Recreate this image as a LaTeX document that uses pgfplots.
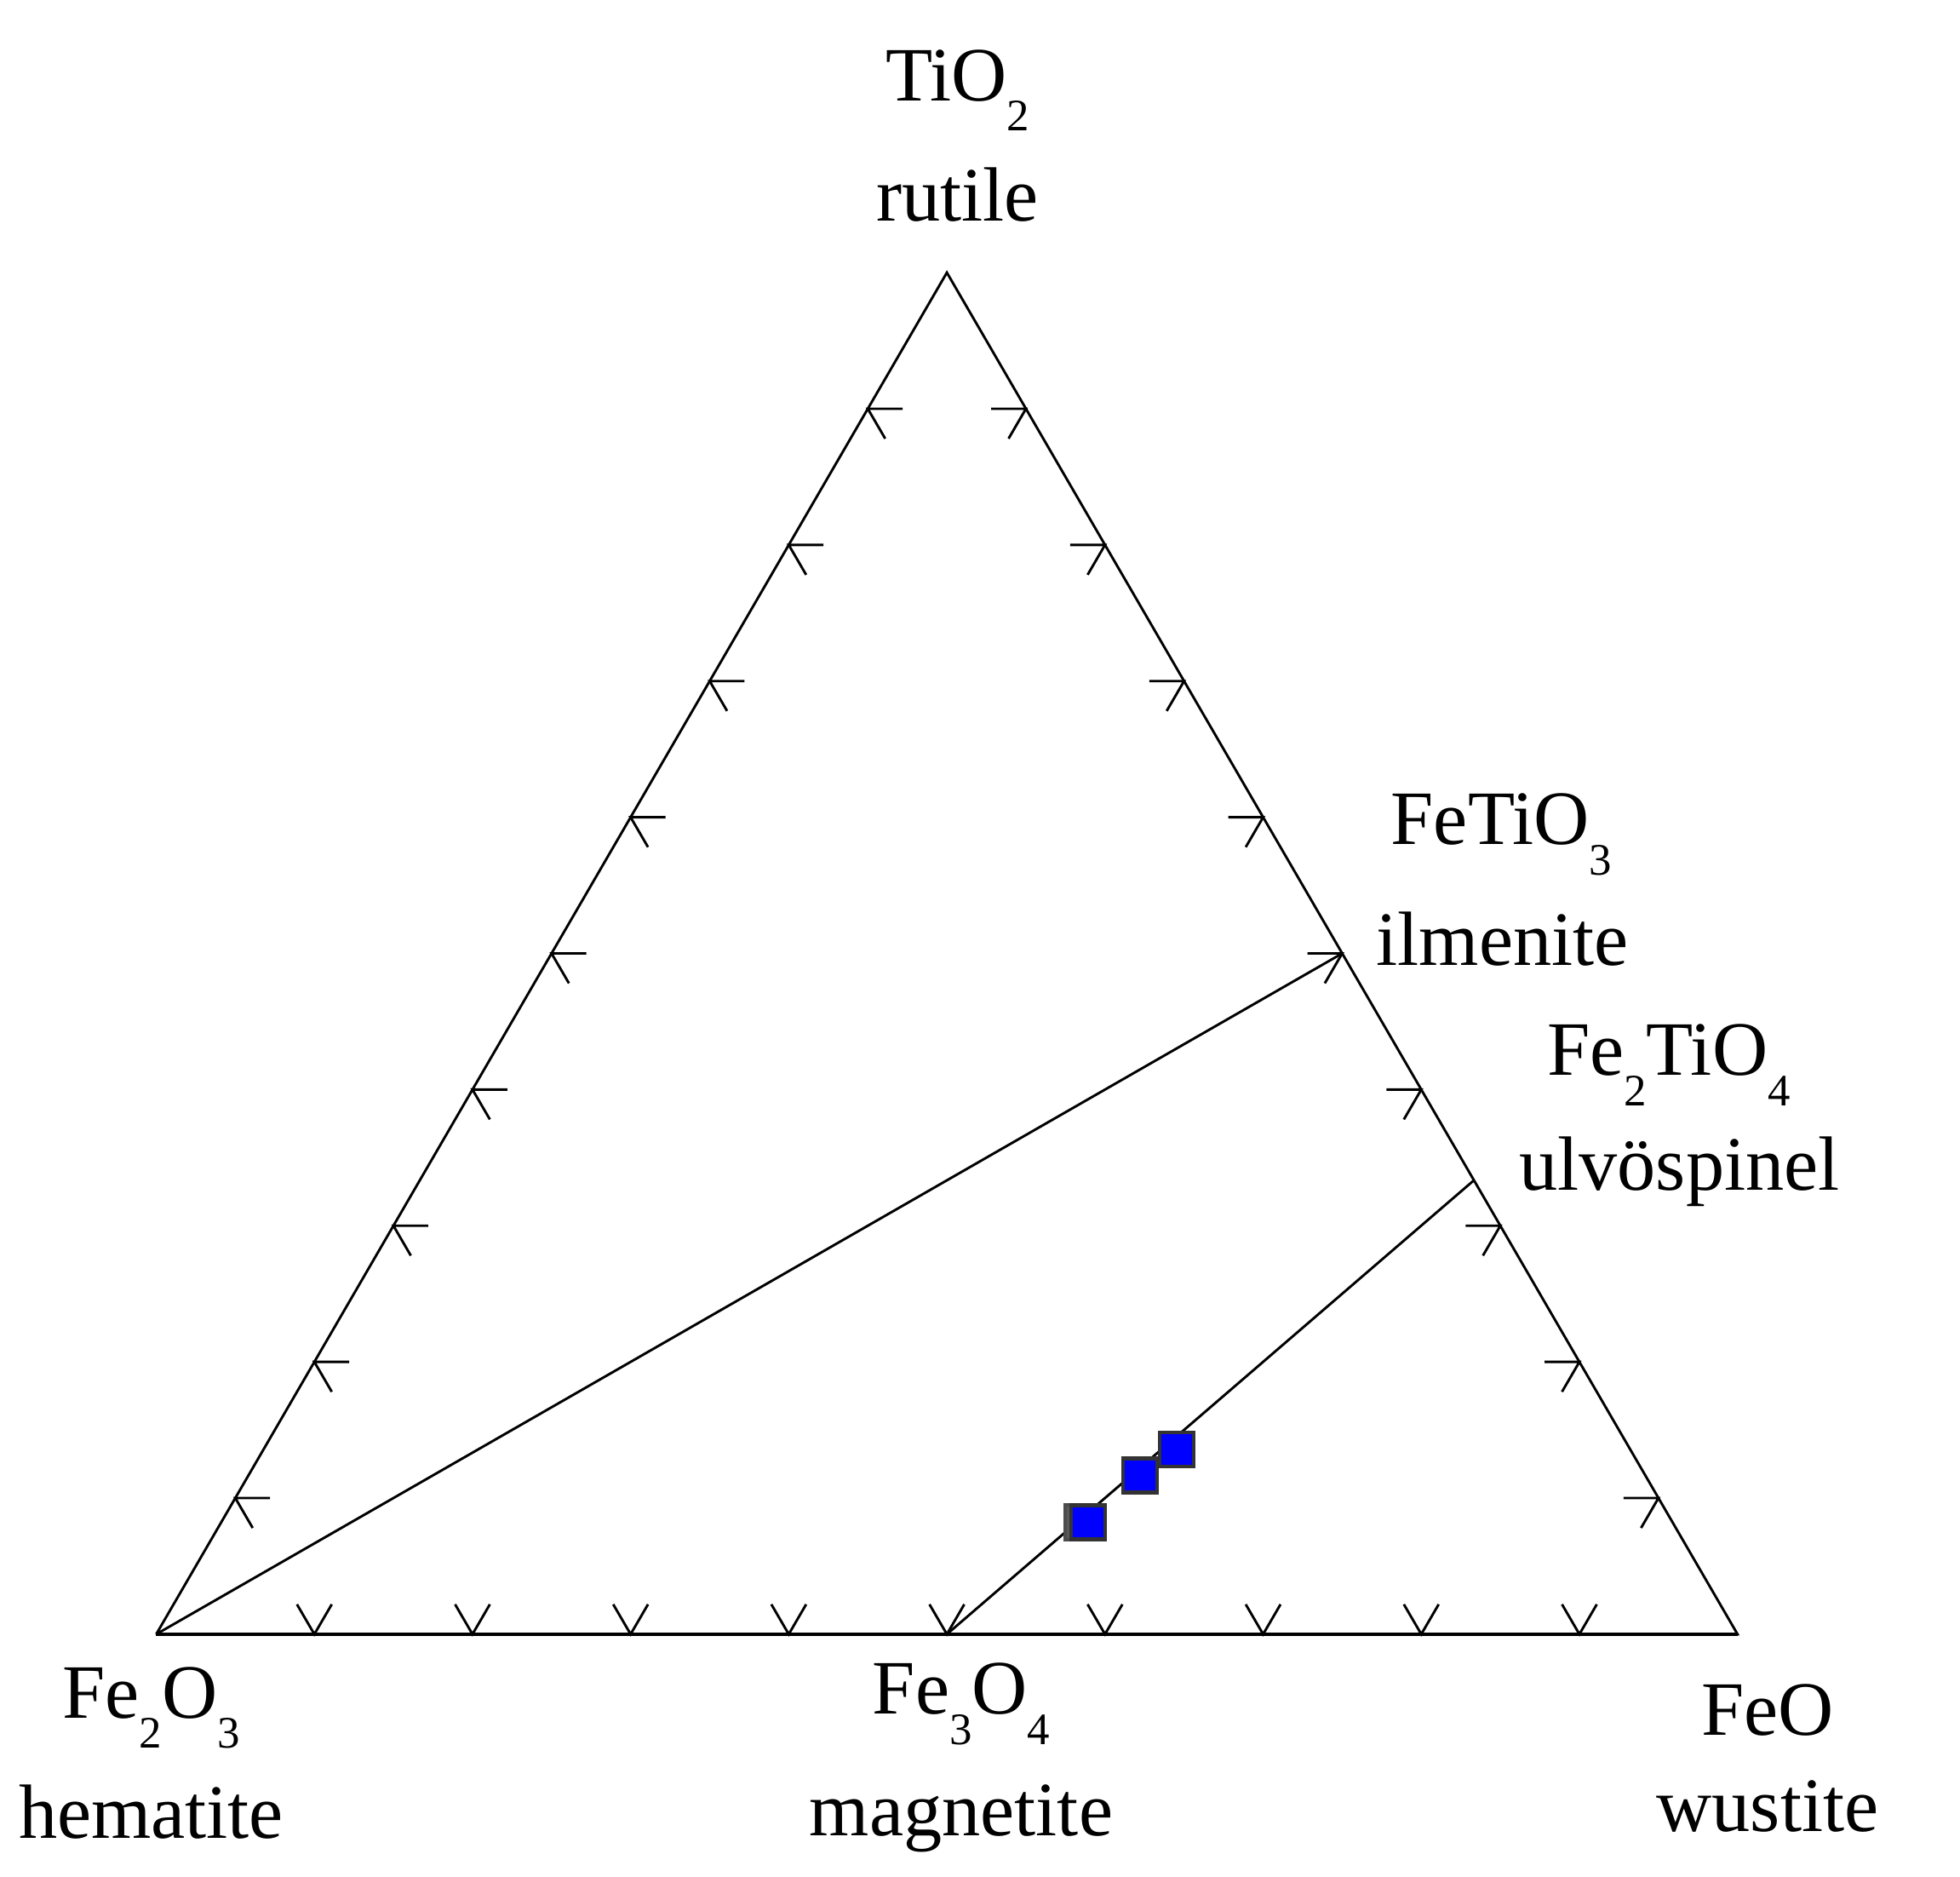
\documentclass[border=0pt]{standalone}
\usepackage{fontspec}
\setmainfont{Liberation Serif}
\usepackage{pgfplots}
\pgfplotsset{compat=1.18}

% subscript digits sit well below the baseline in the original
\newcommand\sub[1]{\raisebox{-5.5pt}{\fontsize{8.2}{9}\selectfont #1}}
\tikzset{lbl/.style={anchor=base, inner sep=0pt, font=\fontsize{14}{16}\selectfont}}

\begin{document}
\begin{tikzpicture}
  \begin{axis}[
      hide axis, scale only axis,
      x=10.12cm, y=10.06cm,
      xmin=-0.0988, xmax=1.1407, ymin=-0.1543, ymax=1.0394,
      clip=false
    ]
    % frame of the ternary diagram
    \addplot[black, line width=0.45pt] coordinates {(0,0) (1,0) (0.5,0.8660) (0,0)};
    \addplot[black, line width=0.6pt] coordinates {(0,0) (1,0)};

    % tie lines
    \addplot[black, line width=0.45pt] coordinates {(0,0) (0.75,0.4330)};
    \addplot[black, line width=0.45pt] coordinates {(0.5,0) (0.8333,0.2887)};

    % ticks on the three sides
    \pgfplotsinvokeforeach{1,...,9}{
      \draw[black, line width=0.45pt]
        (axis cs:{#1/10-0.011},0.019) -- (axis cs:{#1/10},0) -- (axis cs:{#1/10+0.011},0.019);
      \draw[black, line width=0.45pt]
        (axis cs:{0.05*#1+0.022},{0.0866*#1}) -- (axis cs:{0.05*#1},{0.0866*#1})
        -- (axis cs:{0.05*#1+0.011},{0.0866*#1-0.019});
      \draw[black, line width=0.45pt]
        (axis cs:{1-0.05*#1-0.022},{0.0866*#1}) -- (axis cs:{1-0.05*#1},{0.0866*#1})
        -- (axis cs:{1-0.05*#1-0.011},{0.0866*#1-0.019});
    }

    % samples
    \addplot[only marks, mark=square*, mark size=3.2pt,
      mark options={fill=black!65, draw=black!70, line width=0.6pt}]
      coordinates {(0.5858,0.0713)};
    \addplot[only marks, mark=square*, mark size=3.1pt,
      mark options={fill={rgb,255:red,0;green,0;blue,255}, draw=black!80, line width=0.7pt}]
      coordinates {(0.5894,0.0713) (0.6222,0.1011) (0.6454,0.1174)};

    % end-member labels
    \node[lbl] at (axis cs:0.5067,0.9753) {TiO\sub{2}};
    \node[lbl] at (axis cs:0.5067,0.8986) {rutile};
    \node[lbl] at (axis cs:-0.0032,-0.0533) {Fe\sub{2}O\sub{3}};
    \node[lbl] at (axis cs:-0.0032,-0.1296) {hematite};
    \node[lbl] at (axis cs:0.5091,-0.0509) {Fe\sub{3}O\sub{4}};
    \node[lbl] at (axis cs:0.5091,-0.1280) {magnetite};
    \node[lbl] at (axis cs:1.0190,-0.0641) {FeO};
    \node[lbl] at (axis cs:1.0190,-0.1253) {wustite};
    \node[lbl] at (axis cs:0.8506,0.5022) {FeTiO\sub{3}};
    \node[lbl] at (axis cs:0.8514,0.4254) {ilmenite};
    \node[lbl] at (axis cs:0.9565,0.3555) {Fe\sub{2}TiO\sub{4}};
    \node[lbl] at (axis cs:0.9633,0.2823) {ulvöspinel};

    \coordinate (bl) at (axis cs:-0.0988,-0.1543);
    \coordinate (tr) at (axis cs:1.1407,1.0394);
  \end{axis}
  \pgfresetboundingbox
  \useasboundingbox (bl) rectangle (tr);
\end{tikzpicture}
\end{document}
